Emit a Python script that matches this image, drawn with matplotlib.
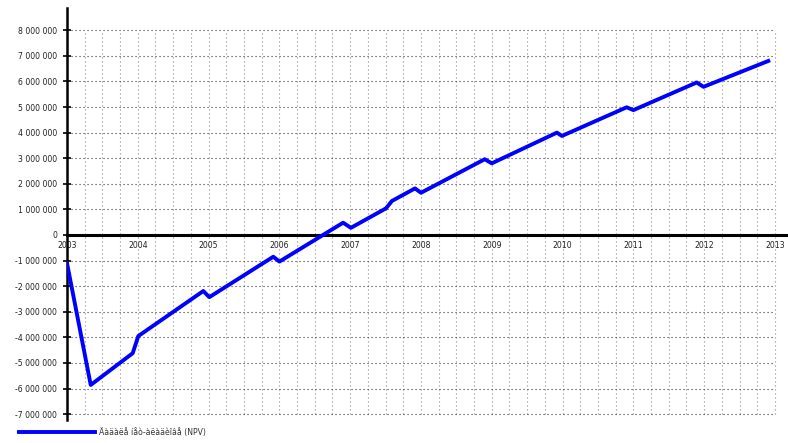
import matplotlib
matplotlib.use("Agg")
import matplotlib.pyplot as plt
import numpy as np
from matplotlib.ticker import FuncFormatter

# Data (fractional year, NPV value)
dates = [2003.00, 2003.335, 2003.928, 2004.007, 2004.925, 2005.01, 2005.914, 2006.00,
         2006.90, 2007.01, 2007.505, 2007.59, 2007.915, 2008.00, 2008.90, 2009.00,
         2009.92, 2009.99, 2010.905, 2011.00, 2011.894, 2011.99, 2012.905]
npv = [-1.10e6, -5.86e6, -4.62e6, -3.95e6, -2.19e6, -2.43e6, -0.85e6, -1.04e6,
       0.48e6, 0.28e6, 1.04e6, 1.33e6, 1.82e6, 1.65e6, 2.96e6, 2.80e6,
       4.00e6, 3.87e6, 4.99e6, 4.88e6, 5.96e6, 5.79e6, 6.80e6]
years = list(range(2003, 2014))
y_ticks = list(range(-7000000, 8000001, 1000000))
legend_label = "Äàäàëå íåò-àëàäèîâå (NPV)"

fig = plt.figure(figsize=(7.88, 4.43), dpi=100)
ax = fig.add_axes([67/788, 1-420/443, 1-67/788, (420-8)/443])
ax.set_xlim(2003, 2003 + (788-67)/70.8)
ax.set_ylim(-7.23e6, 8.87e6)

# grid
quarters = np.arange(2003.25, 2013.01, 0.25)
ax.vlines(quarters, -7e6, 8e6, colors='#8a8a8a', linestyles=(0, (1, 2.6)), linewidth=0.8, zorder=1)
ax.hlines([v for v in y_ticks if v != 0], 2003, 2013, colors='#333333', linestyles=(0, (1, 2.6)), linewidth=0.8, zorder=1)

line, = ax.plot(dates, npv, color='#0000ff', linewidth=2.8, zorder=3, label=legend_label)

for s in ['top', 'right']:
    ax.spines[s].set_visible(False)
ax.spines['bottom'].set_position(('data', 0))
ax.spines['bottom'].set_linewidth(2.2)
ax.spines['left'].set_linewidth(1.8)
ax.spines['left'].set_position(('data', 2003))

ax.set_xticks(years)
ax.set_xticklabels([str(y) for y in years])
ax.tick_params(axis='x', length=0, pad=4, labelsize=5.6, labelcolor='#222222')
ax.set_yticks(y_ticks)
ax.yaxis.set_major_formatter(FuncFormatter(lambda v, p: f"{int(v):,}".replace(",", " ")))
ax.tick_params(axis='y', direction='inout', length=6, width=1.2, labelsize=5.6, pad=4, labelcolor='#222222')

fig.legend(handles=[line], loc='center left', bbox_to_anchor=(12/788, 1-432/443),
           frameon=False, fontsize=5.6, handlelength=9.8, handletextpad=0.5,
           labelcolor='#333333')

fig.savefig("out.png", dpi=100)
